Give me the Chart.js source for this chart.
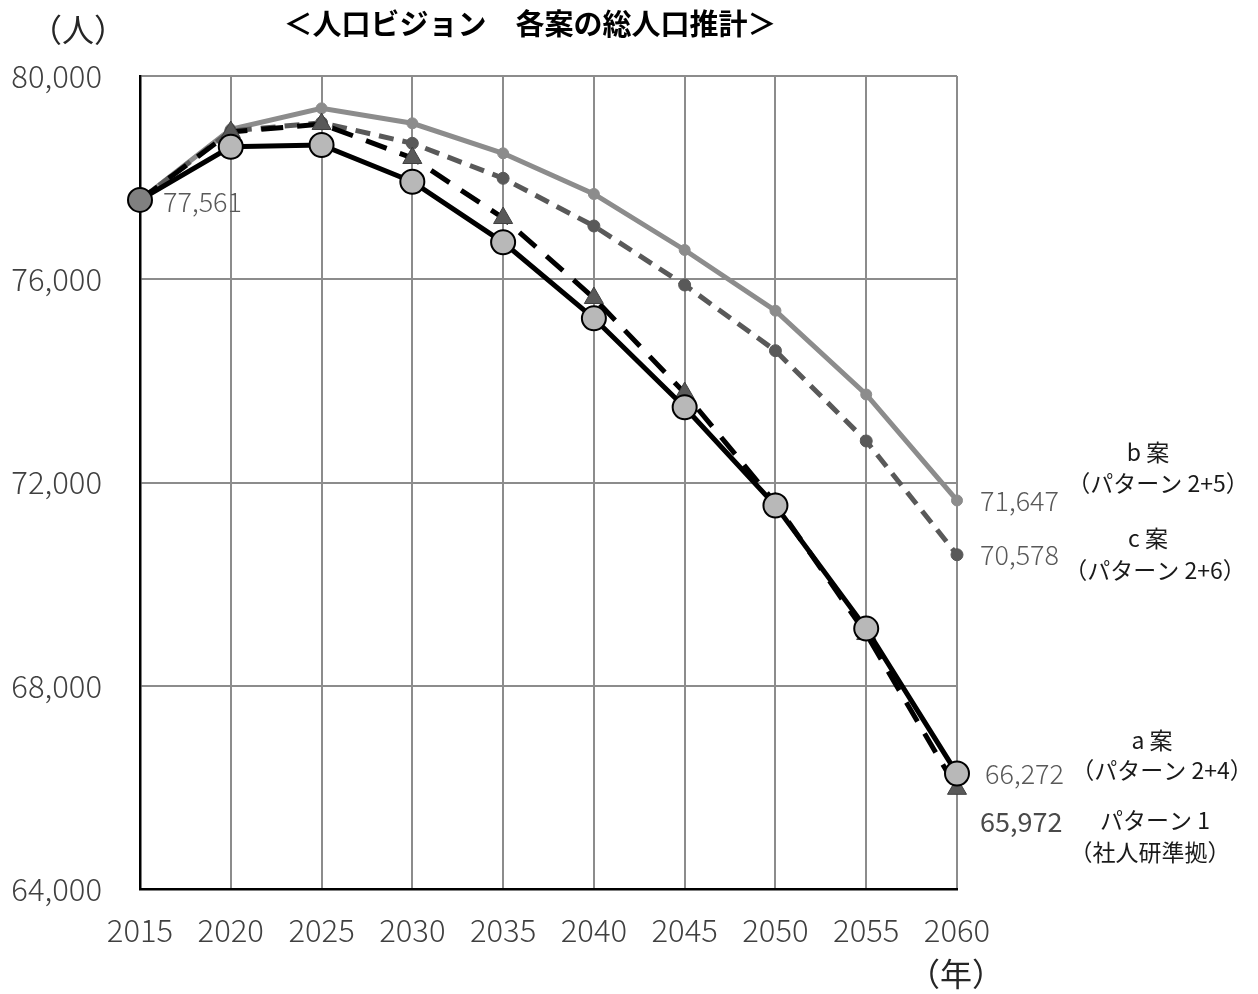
<!DOCTYPE html>
<html>
<head>
<meta charset="utf-8">
<script src="https://cdn.jsdelivr.net/npm/chart.js@4.4.1/dist/chart.umd.min.js"></script>
<style>
    body { margin: 0; background: #fff; }
    #wrap { width: 1258px; height: 994px; }
</style>
</head>
<body>
<div id="wrap"><canvas id="poblacion" width="1258" height="994"></canvas></div>
<script>
// datos del grafico
const anios = ['2015', '2020', '2025', '2030', '2035', '2040', '2045', '2050', '2055', '2060'];
const casoA = [77561, 78608, 78642, 77920, 76727, 75231, 73480, 71547, 69125, 66272];
const patron1 = [77561, 78898, 79055, 78386, 77205, 75631, 73761, 71596, 69018, 65972];
const casoC = [77561, 78917, 79081, 78675, 77987, 77048, 75887, 74594, 72817, 70578];
const casoB = [77561, 78951, 79364, 79069, 78479, 77678, 76576, 75381, 73732, 71647];
const ticksY = [64000, 68000, 72000, 76000, 80000];

const fuente = "'Noto Sans CJK JP', 'Noto Sans', sans-serif";

function numero(v) {
    return v.toLocaleString('en-US');
}

const textos = {
    id: 'textos',
    afterDatasetsDraw(chart) {
        const ctx = chart.ctx;
        const x = chart.scales.x;
        const y = chart.scales.y;
        const ultimo = anios.length - 1;
        ctx.save();
        ctx.textBaseline = 'middle';

        // etiquetas de valores
        ctx.font = '300 27px ' + fuente;
        ctx.fillStyle = '#595959';
        ctx.textAlign = 'left';
        ctx.fillText(numero(casoA[0]), x.getPixelForValue(0) + 23, y.getPixelForValue(casoA[0]) + 2);
        ctx.fillText(numero(casoB[ultimo]), x.getPixelForValue(ultimo) + 23, y.getPixelForValue(casoB[ultimo]));
        ctx.fillText(numero(casoC[ultimo]), x.getPixelForValue(ultimo) + 23, y.getPixelForValue(casoC[ultimo]));
        ctx.fillText(numero(casoA[ultimo]), x.getPixelForValue(ultimo) + 28, y.getPixelForValue(casoA[ultimo]));
        ctx.font = '400 27px ' + fuente;
        ctx.fillStyle = '#4a4a4a';
        ctx.fillText(numero(patron1[ultimo]), x.getPixelForValue(ultimo) + 23, y.getPixelForValue(patron1[ultimo]) + 33);

        // nombres de los casos
        ctx.fillStyle = '#1a1a1a';
        ctx.textAlign = 'center';
        ctx.font = '400 23px ' + fuente;
        ctx.fillText('b 案', 1148, 452);
        ctx.fillText('（パターン 2+5）', 1158, 483);
        ctx.fillText('c 案', 1148, 538);
        ctx.fillText('（パターン 2+6）', 1155, 570);
        ctx.fillText('a 案', 1152, 740);
        ctx.fillText('（パターン 2+4）', 1162, 770);
        ctx.fillText('パターン 1', 1155, 820);
        ctx.fillText('（社人研準拠）', 1150, 852);

        // titulo y unidades
        ctx.font = 'bold 29px ' + fuente;
        ctx.fillStyle = '#000';
        ctx.fillText('＜人口ビジョン　各案の総人口推計＞', 530, 24);
        ctx.font = '400 32px ' + fuente;
        ctx.fillStyle = '#262626';
        ctx.fillText('（人）', 78, 30);
        ctx.fillText('（年）', 956, 974);
        ctx.restore();
    }
};

var ctx = document.getElementById('poblacion');
var grafico = new Chart(ctx, {
    type: 'line',
    data: {
        labels: anios,
        datasets: [{
            label: 'a案',
            data: casoA,
            borderColor: '#000000',
            borderWidth: 5,
            pointStyle: 'circle',
            pointRadius: 12,
            pointBackgroundColor: ['#808080', '#b8b8b8', '#b8b8b8', '#b8b8b8', '#b8b8b8', '#b8b8b8', '#b8b8b8', '#b8b8b8', '#b8b8b8', '#b8b8b8'],
            pointBorderColor: '#000000',
            pointBorderWidth: 2,
            tension: 0
        }, {
            label: 'パターン1',
            data: patron1,
            borderColor: '#000000',
            borderWidth: 5,
            borderDash: [22, 14],
            pointStyle: 'triangle',
            pointRadius: 11,
            pointBackgroundColor: '#595959',
            pointBorderColor: '#404040',
            pointBorderWidth: 1,
            tension: 0
        }, {
            label: 'c案',
            data: casoC,
            borderColor: '#595959',
            borderWidth: 5,
            borderDash: [15, 9],
            pointStyle: 'circle',
            pointRadius: 6,
            pointBackgroundColor: '#595959',
            pointBorderColor: '#595959',
            pointBorderWidth: 1,
            tension: 0
        }, {
            label: 'b案',
            data: casoB,
            borderColor: '#8c8c8c',
            borderWidth: 5,
            pointStyle: 'circle',
            pointRadius: 5.5,
            pointBackgroundColor: '#8c8c8c',
            pointBorderColor: '#8c8c8c',
            pointBorderWidth: 1,
            tension: 0
        }],
    },
    options: {
        responsive: false,
        animation: false,
        layout: { padding: { top: 76, right: 301, left: 0, bottom: 45 } },
        plugins: {
            legend: { display: false },
            tooltip: { enabled: false },
            title: { display: false }
        },
        scales: {
            x: {
                offset: false,
                grid: { color: '#8c8c8c', lineWidth: 2, drawTicks: false, tickLength: 0 },
                border: { color: '#000000', width: 2.5 },
                ticks: {
                    color: '#404040',
                    padding: 23,
                    maxRotation: 0,
                    autoSkip: false,
                    font: { family: fuente, size: 31, weight: 300 }
                },
                afterFit: function (scale) { scale.height = 60; }
            },
            y: {
                min: 64000,
                max: 80000,
                afterBuildTicks: function (scale) {
                    scale.ticks = ticksY.map(function (v) { return { value: v }; });
                },
                grid: { color: '#8c8c8c', lineWidth: 2, drawTicks: false, tickLength: 0 },
                border: { color: '#000000', width: 2.5 },
                ticks: {
                    color: '#404040',
                    padding: 38,
                    font: { family: fuente, size: 31, weight: 300 },
                    callback: function (v) { return numero(v); }
                },
                afterFit: function (scale) { scale.width = 140; }
            }
        }
    },
    plugins: [textos]
});
</script>
</body>
</html>
